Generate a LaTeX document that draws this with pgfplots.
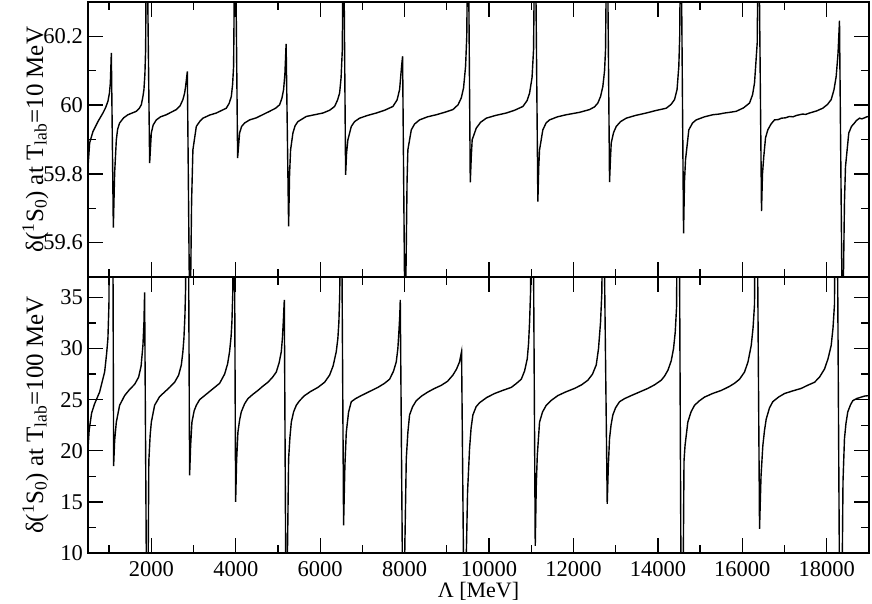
\documentclass[border=0pt]{standalone}
\usepackage{fontspec}
\setmainfont{Liberation Serif}
\usepackage{pgfplots}
\pgfplotsset{compat=1.18}
\begin{document}
\begin{tikzpicture}
\pgfplotsset{
  myaxis/.style={
    scale only axis, width=781pt,
    xmin=500, xmax=19000,
    xtick={2000,4000,6000,8000,10000,12000,14000,16000,18000},
    minor xtick={1000,3000,5000,7000,9000,11000,13000,15000,17000},
    scaled x ticks=false, scaled y ticks=false,
    tick align=inside,
    major tick length=15pt, minor tick length=8pt,
    axis line style={line width=1.3pt},
    tick style={line width=1.3pt, black},
    xticklabel style={font=\fontsize{22.5}{26}\selectfont, anchor=base, yshift=-24pt},
    yticklabel style={font=\fontsize{22.5}{26}\selectfont, anchor=east, inner sep=0pt, xshift=-5pt},
    ylabel style={font=\fontsize{25}{29}\selectfont, at={(axis description cs:-0.0576,0.5)}, anchor=base},
    xlabel style={font=\fontsize{22}{26}\selectfont, at={(axis description cs:0.5,0)}, anchor=base, yshift=-45pt},
  }
}
% bottom panel
\begin{axis}[myaxis, at={(0pt,0pt)}, anchor=south west, height=276pt,
  ymin=10, ymax=37,
  ytick={10,15,20,25,30,35}, yticklabels={10,15,20,25,30,35},
  minor ytick={12.5,17.5,22.5,27.5,32.5},
  xticklabels={2000,4000,6000,8000,10000,12000,14000,16000,18000},
  xlabel={Λ [MeV]},
  ylabel={δ(\textsuperscript{1}S\textsubscript{0}) at T\textsubscript{lab}=100 MeV}]
\addplot[black, line width=1.4pt, mark=none] coordinates {
(500,20.2) (527,22.0) (586,23.7) (657,24.6) (776,25.75) (894,27.7) (941,29.5) (972,31) (996,34.3) (1060,80)
(1107,18.5) (1131,21.0) (1171,22.8) (1249,24.45) (1368,25.4) (1486,26.0) (1605,26.5) (1699,27.2) (1758,28.3) (1801,30.3) (1825,32.5) (1841,35.5) (1903,-5)
(1941,19.0) (1972,21.5) (2000,22.8) (2078,24.45) (2197,25.3) (2315,25.75) (2433,26.2) (2552,26.7) (2647,27.4) (2711,28.4) (2748,29.7) (2772,31.0) (2796,33.2) (2812,35.9) (2848,70)
(2907,17.6) (2931,20.5) (2962,22.8) (3014,23.9) (3066,24.45) (3144,25.0) (3262,25.4) (3381,25.8) (3499,26.2) (3618,26.6) (3736,27.5) (3807,28.5) (3854,29.7) (3890,31.2) (3909,32.6) (3930,35.5) (3949,60)
(3997,15.0) (4020,19.0) (4051,21.8) (4091,23.0) (4131,23.8) (4210,24.6) (4288,25.1) (4399,25.5) (4525,25.9) (4636,26.3) (4761,26.7) (4873,27.2) (4960,27.7) (5027,28.6) (5079,29.7) (5105,31.0) (5126,32.6) (5150,34.75) (5195,0)
(5252,19.2) (5283,21.3) (5316,22.8) (5370,23.8) (5434,24.45) (5512,24.9) (5631,25.4) (5773,25.8) (5946,26.2) (6104,26.7) (6223,27.4) (6306,28.3) (6381,29.7) (6419,31.0) (6443,32.6) (6464,35.5) (6483,60)
(6554,12.7) (6585,18.5) (6618,21.8) (6673,23.8) (6737,24.8) (6838,25.1) (6973,25.4) (7170,25.8) (7367,26.2) (7525,26.6) (7644,27.0) (7738,27.8) (7802,28.7) (7840,30.0) (7864,31.6) (7885,33.2) (7897,34.75) (7964,0)
(8039,19.2) (8077,21.8) (8117,23.5) (8188,24.3) (8276,24.9) (8401,25.35) (8551,25.75) (8709,26.1) (8868,26.4) (9017,26.8) (9143,27.4) (9231,28.0) (9301,28.7) (9349,29.7) (9415,0)
(9491,16) (9538,20.2) (9574,22.2) (9617,23.5) (9692,24.3) (9775,24.7) (9941,25.2) (10130,25.6) (10320,25.9) (10526,26.2) (10652,26.6) (10763,27.0) (10841,27.8) (10905,29.0) (10936,30.5) (10960,32.6) (10983,35.5) (11007,70)
(11094,10.7) (11118,16.5) (11142,19.5) (11196,22.8) (11267,23.8) (11355,24.45) (11480,24.95) (11630,25.4) (11812,25.75) (12025,26.1) (12191,26.45) (12340,26.9) (12451,27.5) (12539,28.4) (12593,30.0) (12641,32.6) (12672,35.5) (12700,50)
(12799,14.8) (12825,18.5) (12854,21.2) (12889,22.5) (12932,23.5) (12996,24.2) (13091,24.8) (13209,25.1) (13368,25.4) (13565,25.75) (13761,26.1) (13920,26.45) (14078,26.9) (14156,27.3) (14239,27.9) (14315,28.8) (14370,30.0) (14410,31.6) (14441,34.0) (14488,60)
(14566,-10) (14618,19.0) (14642,20.5) (14708,22.8) (14784,23.8) (14867,24.45) (14986,24.9) (15104,25.25) (15293,25.6) (15499,25.9) (15696,26.3) (15814,26.6) (15933,27.0) (16051,27.7) (16134,28.7) (16210,30.3) (16253,32.0) (16288,34.3) (16324,60)
(16407,12.35) (16442,17.5) (16485,20.5) (16525,22.0) (16565,23.1) (16643,24.2) (16721,24.8) (16856,25.25) (16999,25.6) (17188,25.85) (17394,26.1) (17543,26.4) (17709,26.7) (17827,27.2) (17946,28.0) (18029,29.0) (18104,30.3) (18147,32.0) (18182,34.3) (18225,60)
(18325,-10) (18384,17) (18419,21.2) (18455,22.7) (18497,23.8) (18562,24.5) (18616,24.9) (18704,25.1) (18815,25.25) (18893,25.35) (19000,25.4)
};
\end{axis}
% top panel
\begin{axis}[myaxis, at={(0pt,276pt)}, anchor=south west, height=275pt,
  ymin=59.5, ymax=60.3,
  ytick={59.6,59.8,60,60.2}, yticklabels={59.6,59.8,60,60.2},
  minor ytick={59.7,59.9,60.1},
  xticklabels={},
  ylabel={δ(\textsuperscript{1}S\textsubscript{0}) at T\textsubscript{lab}=10 MeV}]
\addplot[black, line width=1.4pt, mark=none] coordinates {
(500,59.82) (539,59.89) (617,59.923) (735,59.952) (854,59.977) (918,59.993) (972,60.011) (1008,60.035) (1029,60.064) (1053,60.152)
(1100,59.644) (1131,59.802) (1171,59.899) (1202,59.930) (1249,59.948) (1344,59.963) (1446,59.972) (1645,59.982) (1711,59.990) (1763,60.001) (1801,60.025) (1825,60.045) (1848,60.09) (1865,60.161) (1889,60.6)
(1960,59.831) (2000,59.919) (2043,59.942) (2118,59.957) (2220,59.966) (2355,59.972) (2592,59.987) (2682,59.998) (2748,60.016) (2789,60.035) (2812,60.054) (2853,60.098) (2914,59.3)
(2954,59.72) (2985,59.870) (3066,59.938) (3144,59.952) (3222,59.962) (3381,59.971) (3539,59.977) (3776,59.991) (3843,60.005) (3895,60.025) (3925,60.06) (3949,60.113) (3985,60.6)
(4044,59.846) (4091,59.919) (4139,59.938) (4210,59.948) (4328,59.957) (4487,59.963) (4636,59.972) (4802,59.982) (4944,59.991) (5039,60.001) (5093,60.02) (5133,60.045) (5164,60.09) (5193,60.178)
(5252,59.647) (5275,59.80) (5299,59.870) (5354,59.919) (5406,59.940) (5472,59.952) (5671,59.967) (5867,59.972) (6064,59.977) (6223,59.985) (6341,59.996) (6412,60.015) (6460,60.035) (6495,60.08) (6524,60.161) (6550,60.6)
(6602,59.797) (6625,59.86) (6656,59.899) (6737,59.938) (6815,59.952) (6933,59.962) (7123,59.970) (7329,59.977) (7525,59.985) (7722,59.996) (7821,60.015) (7881,60.045) (7928,60.113) (7952,60.142) (8011,59.3)
(8058,59.78) (8077,59.870) (8158,59.928) (8236,59.945) (8354,59.957) (8544,59.966) (8750,59.972) (8946,59.979) (9143,59.987) (9266,60.001) (9342,60.021) (9396,60.05) (9444,60.113) (9472,60.2) (9503,60.6)
(9555,59.775) (9579,59.85) (9600,59.899) (9697,59.933) (9799,59.950) (9934,59.962) (10154,59.970) (10408,59.977) (10604,59.985) (10801,59.996) (10900,60.013) (10960,60.035) (11018,60.08) (11054,60.161) (11090,60.6)
(11156,59.719) (11177,59.82) (11196,59.870) (11274,59.928) (11350,59.948) (11433,59.957) (11622,59.966) (11829,59.972) (12144,59.979) (12380,59.987) (12499,59.995) (12577,60.006) (12641,60.025) (12695,60.054) (12736,60.10) (12759,60.161) (12795,60.6)
(12854,59.776) (12878,59.85) (12894,59.89) (12949,59.920) (13013,59.938) (13115,59.952) (13249,59.962) (13470,59.970) (13723,59.977) (13943,59.984) (14197,59.991) (14311,60.002) (14393,60.016) (14453,60.045) (14495,60.113) (14516,60.2) (14543,60.6)
(14607,59.627) (14630,59.78) (14654,59.841) (14732,59.928) (14820,59.948) (14907,59.957) (15104,59.966) (15301,59.972) (15450,59.974) (15577,59.977) (15700,59.979) (15855,59.982) (16028,59.992) (16170,60.006) (16241,60.03) (16288,60.064) (16352,60.181) (16383,60.6)
(16454,59.692) (16477,59.80) (16508,59.851) (16549,59.905) (16603,59.928) (16679,59.945) (16762,59.957) (16850,59.958) (16927,59.962) (17020,59.963) (17117,59.967) (17200,59.966) (17283,59.970) (17425,59.974) (17500,59.973) (17591,59.977) (17756,59.983) (17905,59.991) (18017,60.002) (18104,60.016) (18171,60.045) (18223,60.084) (18266,60.15) (18301,60.246)
(18372,59.3) (18419,59.72) (18443,59.821) (18521,59.919) (18585,59.938) (18656,59.948) (18700,59.955) (18775,59.962) (18830,59.960) (18893,59.963) (18950,59.966) (19000,59.967)
};
\end{axis}
\pgfresetboundingbox
\path[use as bounding box] (-88pt,-51pt) rectangle (784pt,553pt);
\end{tikzpicture}
\end{document}
